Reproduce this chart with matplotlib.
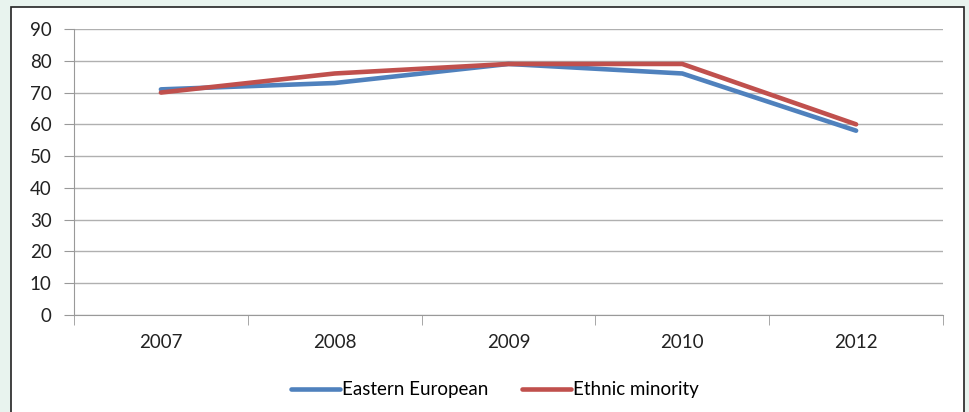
import matplotlib.pyplot as plt
from matplotlib.patches import Rectangle

years = ['2007', '2008', '2009', '2010', '2012']
eastern_european = [71, 73, 79, 76, 58]
ethnic_minority = [70, 76, 79, 79, 60]
y_ticks = [0, 10, 20, 30, 40, 50, 60, 70, 80, 90]

plt.rcParams['font.family'] = ['Lato', 'DejaVu Sans']

fig = plt.figure(figsize=(9.7, 4.12), dpi=100)
fig.patch.set_facecolor('#e8f3ee')
# white chart box with a dark frame
fig.patches.append(Rectangle((11 / 970, -0.05), 953 / 970, 1 - 7 / 412 + 0.05,
                             transform=fig.transFigure, facecolor='white',
                             edgecolor='#222222', linewidth=1.2, zorder=-5))

ax = fig.add_axes([74 / 970, 1 - 315 / 412, (943 - 74) / 970, (315 - 29) / 412])
ax.set_zorder(2)
ax.set_facecolor('none')

x = list(range(len(years)))
ax.plot(x, eastern_european, color='#4f81bd', linewidth=3.3, label='Eastern European',
        solid_capstyle='round', zorder=3)
ax.plot(x, ethnic_minority, color='#c0504d', linewidth=3.3, label='Ethnic minority',
        solid_capstyle='round', zorder=4)

ax.set_xlim(-0.5, len(years) - 0.5)
ax.set_ylim(0, 90)
ax.set_yticks(y_ticks)
ax.set_yticklabels([str(v) for v in y_ticks], fontsize=13.5, color='#222222')
ax.set_xticks(x)
ax.set_xticklabels(years, fontsize=13.5, color='#222222')
ax.set_xticks([i - 0.5 for i in range(len(years) + 1)], minor=True)
ax.tick_params(axis='x', which='major', length=0, pad=14)
ax.tick_params(axis='x', which='minor', length=7, color='#999999', direction='out')
ax.tick_params(axis='y', length=7, color='#999999', pad=9)

ax.grid(axis='y', color='#b0b0b0', linewidth=1)
ax.set_axisbelow(True)
for side in ['top', 'right']:
    ax.spines[side].set_visible(False)
ax.spines['left'].set_color('#999999')
ax.spines['bottom'].set_color('#999999')

fig.legend(loc='center', bbox_to_anchor=(495 / 970, 1 - 390 / 412), ncol=2,
           frameon=False, fontsize=13.5, handlelength=2.6, handletextpad=0.1,
           columnspacing=1.8)

fig.savefig('out.png', dpi=100, facecolor=fig.get_facecolor())
